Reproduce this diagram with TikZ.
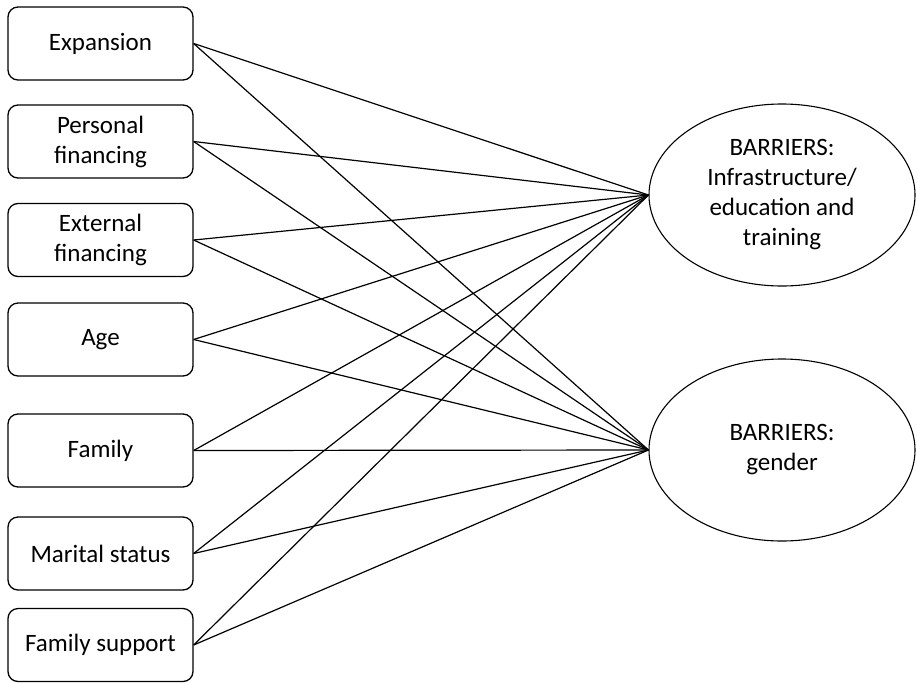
\documentclass[tikz,border=0pt]{standalone}
\usepackage{fontspec}
\setmainfont{Carlito}
\usepackage{tikz}
\usetikzlibrary{shapes.geometric}

\begin{document}
\begin{tikzpicture}[x=1pt,y=-1pt,
	factor/.style={draw, rounded corners=10pt, line width=1.3pt, minimum width=185pt, minimum height=73pt, align=center, inner sep=2pt, font=\fontsize{25}{30}\selectfont},
	barrier/.style={draw, ellipse, line width=1.1pt, minimum width=266pt, minimum height=182pt, align=center, inner sep=0pt, font=\fontsize{25}{30}\selectfont}]
	\useasboundingbox (0,0) rectangle (917,683);
	
	% the two barrier ellipses on the right
	\node[barrier] (infra) at (782,195) {BARRIERS:\\Infrastructure/\\education and\\training};
	\node[barrier] (gender) at (782,450) {BARRIERS:\\gender};
	
	% factor boxes on the left, each one linked to both barriers
	\foreach \name/\ypos/\txt in
	{expan/43.5/Expansion, pfin/141.5/Personal\\financing, efin/240/External\\financing, age/339.5/Age, fam/450.5/Family, marital/553.5/Marital status, famsup/645/Family support}{
		\node[factor] (\name) at (100.5,\ypos) {\txt};
		\draw[line width=1.2pt] (\name.east) -- (infra.west);
		\draw[line width=1.2pt] (\name.east) -- (gender.west);
	}
\end{tikzpicture}
\end{document}
